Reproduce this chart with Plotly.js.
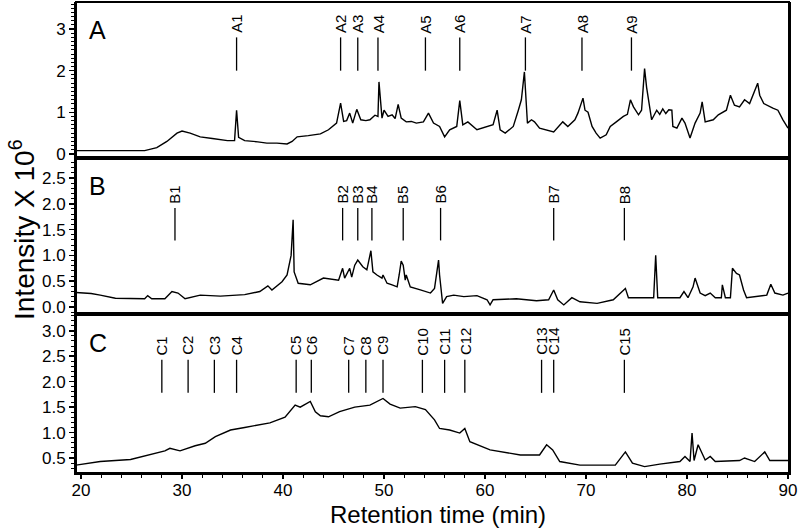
<!DOCTYPE html>
<html>
<head>
<meta charset="utf-8">
<script src="https://cdn.plot.ly/plotly-3.0.1.min.js"></script>
<style>
  html, body { margin: 0; padding: 0; background: #fff; }
  #chart { width: 800px; height: 529px; }
</style>
</head>
<body>
<div id="chart"></div>
<script>
// retention time (min) and intensity (x 10^6)
var timeA = [
  19.5, 22, 24, 26.3, 27.5, 28.5, 29.5, 30.0, 30.8, 31.8,
  33, 34.5, 35.2, 35.4, 35.6, 36.2, 37.5, 38.4, 39.4, 40.4,
  40.9, 41.4, 42.5, 43.7, 44.5, 45.3, 45.7, 46.0, 46.3, 46.6,
  46.9, 47.3, 47.7, 48.2, 48.6, 49.1, 49.4, 49.5, 49.8, 50.0,
  50.4, 50.8, 51.1, 51.4, 51.7, 52.2, 52.7, 53.2, 53.9, 54.4,
  54.9, 55.5, 56.0, 56.5, 57.2, 57.5, 57.8, 58.3, 59.2, 60.2,
  60.8, 61.2, 61.5, 62.0, 62.8, 63.3, 63.6, 63.9, 64.1, 64.2,
  64.6, 64.9, 65.4, 66.1, 66.8, 67.7, 68.2, 68.9, 69.2, 69.7,
  69.9, 70.2, 70.6, 71.0, 71.4, 72.0, 72.4, 73.0, 73.7, 74.1,
  74.4, 74.7, 75.2, 75.5, 75.7, 75.8, 76.0, 76.2, 76.5, 77.0,
  77.3, 77.6, 77.9, 78.2, 78.5, 78.6, 79.0, 79.5, 79.8, 80.3,
  80.8, 81.3, 81.5, 81.8, 82.6, 83.1, 83.9, 84.3, 84.7, 85.2,
  85.7, 86.2, 86.7, 87.0, 87.2, 87.6, 88.5, 89.0, 89.5, 90.0
];
var signalA = [
  0.08, 0.08, 0.08, 0.08, 0.15, 0.3, 0.5, 0.55, 0.5, 0.41,
  0.37, 0.32, 0.32, 1.05, 0.4, 0.32, 0.29, 0.26, 0.26, 0.24,
  0.3, 0.41, 0.44, 0.48, 0.58, 0.74, 1.22, 0.78, 0.8, 0.98,
  0.74, 1.07, 0.82, 0.8, 0.82, 0.93, 0.9, 1.73, 0.86, 1.05,
  0.9, 0.94, 0.85, 1.19, 0.86, 0.77, 0.78, 0.74, 0.77, 0.98,
  0.74, 0.66, 0.41, 0.58, 0.66, 1.28, 0.7, 0.77, 0.58, 0.66,
  0.7, 1.05, 0.58, 0.5, 0.66, 1.05, 1.3, 1.97, 1.3, 0.74,
  0.82, 0.77, 0.62, 0.58, 0.53, 0.77, 0.66, 0.82, 0.98, 1.34,
  1.05, 1.0, 0.66, 0.5, 0.38, 0.46, 0.66, 0.77, 0.9, 0.95,
  1.3, 1.13, 0.94, 1.05, 1.77, 2.05, 1.6, 1.3, 0.82, 1.05,
  0.95, 1.08, 0.97, 1.06, 1.05, 0.66, 0.62, 0.86, 0.74, 0.38,
  0.74, 0.98, 1.25, 0.77, 0.82, 0.94, 1.05, 1.41, 1.17, 1.13,
  1.3, 1.21, 1.49, 1.7, 1.41, 1.21, 1.1, 1.05, 0.82, 0.62
];

var timeB = [
  19.5, 21, 21.9, 23.4, 26.3, 26.6, 27.0, 28.3, 29.0, 29.6,
  30.3, 31.8, 33.8, 36.2, 37.7, 38.5, 38.9, 39.9, 40.4, 40.8,
  41.0, 41.1, 41.5, 42.7, 44.0, 45.5, 45.9, 46.1, 46.6, 46.8,
  47.1, 47.4, 47.9, 48.3, 48.7, 48.9, 49.3, 49.8, 49.9, 50.3,
  50.8, 51.3, 51.5, 51.7, 51.9, 52.1, 52.2, 52.6, 53.6, 54.6,
  55.0, 55.2, 55.4, 55.5, 55.8, 56.2, 56.9, 57.9, 59.2, 60.2,
  60.5, 60.8, 63.1, 65.1, 66.3, 66.8, 67.2, 67.8, 68.6, 69.4,
  71.1, 72.7, 73.4, 73.9, 74.2, 76.7, 76.9, 77.1, 79.3, 79.7,
  80.1, 80.6, 80.8, 81.3, 81.8, 82.3, 82.8, 83.4, 83.5, 83.8,
  84.3, 84.5, 84.9, 85.2, 85.6, 85.9, 87.9, 88.3, 88.7, 89.5,
  90.0
];
var signalB = [
  0.28, 0.26, 0.23, 0.17, 0.16, 0.22, 0.16, 0.16, 0.3, 0.27,
  0.16, 0.23, 0.21, 0.24, 0.3, 0.41, 0.33, 0.49, 0.62, 1.0,
  1.69, 0.68, 0.46, 0.43, 0.56, 0.52, 0.75, 0.56, 0.75, 0.58,
  0.81, 0.91, 0.78, 0.72, 1.09, 0.68, 0.62, 0.56, 0.62, 0.46,
  0.43, 0.39, 0.62, 0.89, 0.81, 0.52, 0.62, 0.39, 0.33, 0.27,
  0.36, 0.68, 0.91, 0.62, 0.07, 0.2, 0.23, 0.2, 0.22, 0.14,
  0.04, 0.14, 0.16, 0.12, 0.14, 0.33, 0.14, 0.04, 0.18, 0.1,
  0.07, 0.14, 0.27, 0.36, 0.18, 0.18, 1.0, 0.18, 0.18, 0.3,
  0.18, 0.39, 0.56, 0.27, 0.22, 0.27, 0.18, 0.18, 0.43, 0.18,
  0.18, 0.75, 0.65, 0.62, 0.33, 0.18, 0.23, 0.44, 0.27, 0.23,
  0.27
];

var timeC = [
  19.5, 21.9, 24.9, 26.8, 28.3, 28.8, 29.8, 31.3, 32.3, 33.3,
  34.8, 36.2, 37.2, 38.7, 40.2, 40.7, 41.2, 41.7, 42.2, 42.7,
  43.2, 43.7, 44.5, 45.6, 47.1, 48.6, 49.9, 50.6, 51.6, 53.1,
  54.1, 55.0, 55.5, 56.5, 57.5, 58.0, 58.5, 60.5, 63.5, 65.4,
  66.1, 66.7, 67.4, 69.4, 72.9, 73.9, 74.6, 75.8, 77.3, 79.3,
  79.8, 80.3, 80.5, 80.7, 81.1, 81.8, 82.3, 82.8, 85.2, 85.7,
  86.7, 87.7, 88.2, 90.0
];
var signalC = [
  0.36, 0.43, 0.47, 0.56, 0.64, 0.69, 0.64, 0.74, 0.79, 0.92,
  1.05, 1.1, 1.13, 1.19, 1.3, 1.41, 1.54, 1.5, 1.56, 1.61,
  1.41, 1.33, 1.31, 1.41, 1.5, 1.54, 1.67, 1.56, 1.48, 1.51,
  1.45, 1.25, 1.08, 1.05, 0.99, 1.08, 0.82, 0.66, 0.56, 0.56,
  0.76, 0.66, 0.43, 0.36, 0.36, 0.62, 0.4, 0.33, 0.38, 0.43,
  0.53, 0.43, 0.99, 0.45, 0.76, 0.46, 0.53, 0.43, 0.45, 0.5,
  0.43, 0.62, 0.45, 0.45
];

// marked peaks
var peakNamesA = ['A1', 'A2', 'A3', 'A4', 'A5', 'A6', 'A7', 'A8', 'A9'];
var peakTimesA = [35.4, 45.7, 47.4, 49.4, 54.1, 57.5, 64.0, 69.6, 74.5];
var peakNamesB = ['B1', 'B2', 'B3', 'B4', 'B5', 'B6', 'B7', 'B8'];
var peakTimesB = [29.3, 45.9, 47.4, 48.8, 51.9, 55.6, 66.8, 73.8];
var peakNamesC = ['C1', 'C2', 'C3', 'C4', 'C5', 'C6', 'C7', 'C8', 'C9', 'C10',
                  'C11', 'C12', 'C13', 'C14', 'C15'];
var peakTimesC = [28.0, 30.6, 33.2, 35.4, 41.3, 42.8, 46.5, 48.2, 49.9, 53.8,
                  56.0, 58.0, 65.6, 66.8, 73.8];

var font = 'Liberation Sans, Arial, sans-serif';

var traces = [
  { x: timeA, y: signalA, yaxis: 'y',  type: 'scatter', mode: 'lines', line: { color: '#000', width: 1.4 } },
  { x: timeB, y: signalB, yaxis: 'y2', type: 'scatter', mode: 'lines', line: { color: '#000', width: 1.4 } },
  { x: timeC, y: signalC, yaxis: 'y3', type: 'scatter', mode: 'lines', line: { color: '#000', width: 1.4 } }
];

var shapes = [];
var annotations = [];

function addPeaks(names, times, yref, y0, y1, ytext) {
  for (var i = 0; i < names.length; i++) {
    shapes.push({ type: 'line', xref: 'x', yref: yref, x0: times[i], x1: times[i], y0: y0, y1: y1,
                  line: { color: '#000', width: 1.3 } });
    annotations.push({ xref: 'x', yref: yref, x: times[i], y: ytext, text: names[i], textangle: -90,
                       showarrow: false, xanchor: 'center', yanchor: 'bottom',
                       font: { family: font, size: 15, color: '#000' } });
  }
}
addPeaks(peakNamesA, peakTimesA, 'y', 2.0, 2.8, 2.85);
addPeaks(peakNamesB, peakTimesB, 'y2', 1.29, 1.92, 1.96);
addPeaks(peakNamesC, peakTimesC, 'y3', 1.78, 2.43, 2.48);

// frame and panel separators
var dA = [0.669, 1.0], dB = [0.3376, 0.669], dC = [0, 0.3376];
shapes.push({ type: 'rect', xref: 'paper', yref: 'paper', x0: 0, x1: 1, y0: 0, y1: 1,
              line: { color: '#000', width: 2 } });
shapes.push({ type: 'line', xref: 'paper', yref: 'paper', x0: 0, x1: 1, y0: dA[0], y1: dA[0],
              line: { color: '#000', width: 4 } });
shapes.push({ type: 'line', xref: 'paper', yref: 'paper', x0: 0, x1: 1, y0: dB[0], y1: dB[0],
              line: { color: '#000', width: 4 } });

var panelLetters = ['A', 'B', 'C'];
var panelRefs = ['y domain', 'y2 domain', 'y3 domain'];
for (var p = 0; p < 3; p++) {
  annotations.push({ xref: 'paper', yref: panelRefs[p], x: 0.016, y: 0.82, text: panelLetters[p],
                     showarrow: false, xanchor: 'left', yanchor: 'middle',
                     font: { family: font, size: 25, color: '#000' } });
}
// axis titles
annotations.push({ xref: 'paper', yref: 'paper', x: -0.0757, y: 0.516, text: 'Intensity X 10<sup>6</sup>',
                   textangle: -90, showarrow: false, xanchor: 'center', yanchor: 'middle',
                   font: { family: font, size: 28, color: '#000' } });
annotations.push({ xref: 'paper', yref: 'paper', x: 0.508, y: -0.089, text: 'Retention time (min)',
                   showarrow: false, xanchor: 'center', yanchor: 'middle',
                   font: { family: font, size: 24, color: '#000' } });

function yAxis(domain, range, dtick, fmt) {
  return {
    domain: domain, range: range, dtick: dtick, tick0: 0, tickformat: fmt,
    showgrid: false, zeroline: false, showline: true, linecolor: '#000', linewidth: 2, mirror: true,
    ticks: 'outside', ticklen: 5, tickwidth: 1.5, tickcolor: '#000',
    minor: { dtick: 0.1, ticks: 'outside', ticklen: 3, tickwidth: 1, tickcolor: '#000' },
    tickfont: { family: font, size: 17, color: '#000' }, anchor: 'x', fixedrange: true
  };
}

var layout = {
  width: 800, height: 529,
  margin: { l: 76, r: 11, t: 2, b: 56 },
  paper_bgcolor: '#fff', plot_bgcolor: '#fff',
  showlegend: false,
  xaxis: {
    range: [19.5, 90.1], dtick: 10, tick0: 0, anchor: 'y3',
    showgrid: false, zeroline: false, showline: true, linecolor: '#000', linewidth: 2,
    ticks: 'outside', ticklen: 4, tickwidth: 1.5, tickcolor: '#000', ticklabelstandoff: -3,
    minor: { dtick: 2, ticks: 'outside', ticklen: 3, tickwidth: 1, tickcolor: '#000' },
    tickfont: { family: font, size: 17, color: '#000' }
  },
  yaxis: yAxis(dA, [-0.096, 3.65], 1, 'd'),
  yaxis2: yAxis(dB, [-0.136, 2.89], 0.5, '.1f'),
  yaxis3: yAxis(dC, [0.205, 3.33], 0.5, '.1f'),
  shapes: shapes,
  annotations: annotations
};

Plotly.newPlot('chart', traces, layout, { displayModeBar: false, staticPlot: true });
</script>
</body>
</html>
